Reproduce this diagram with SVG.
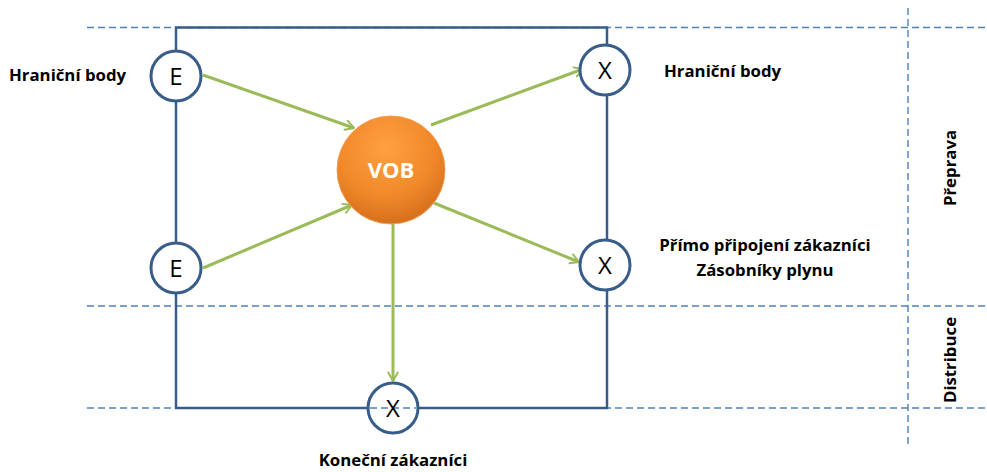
<svg xmlns="http://www.w3.org/2000/svg" width="987" height="472" viewBox="0 0 987 472">
<defs>
<style>
.dash{stroke:#4F81BD;stroke-width:1.4;stroke-dasharray:7 4;fill:none}
.frame{stroke:#385D8A;stroke-width:2.5;fill:none}
.node{fill:#fff;stroke:#385D8A;stroke-width:3}
.nt{font-family:"Open Sans","Liberation Sans",sans-serif;font-size:24px;fill:#000;text-anchor:middle}
.lbl{font-family:"Open Sans","Liberation Sans",sans-serif;font-size:16.8px;font-weight:bold;fill:#000}
.conn{stroke:#9BBB59;stroke-width:3;fill:none;marker-end:url(#ah)}
</style>
<marker id="ah" viewBox="0 0 10 10" refX="8" refY="5" markerWidth="4" markerHeight="4" orient="auto" markerUnits="strokeWidth">
<path d="M1,1 L8,5 L1,9" fill="none" stroke="#9BBB59" stroke-width="1.6" stroke-linecap="round" stroke-linejoin="round"/>
</marker>
<radialGradient id="og" cx="0.45" cy="0.3" r="0.75">
<stop offset="0" stop-color="#FFA040"/>
<stop offset="0.6" stop-color="#F0882A"/>
<stop offset="1" stop-color="#D06A18"/>
</radialGradient>
</defs>
<rect width="987" height="472" fill="#fff"/>
<g id="guides">
<line class="dash" x1="87" y1="27.5" x2="987" y2="27.5"/>
<line class="dash" x1="87" y1="306" x2="987" y2="306"/>
<line class="dash" x1="87" y1="408" x2="987" y2="408"/>
<line class="dash" x1="908" y1="8" x2="908" y2="445"/>
</g>
<rect class="frame" x="176" y="27.5" width="431" height="380.5"/>
<g id="connectors">
<line class="conn" x1="203" y1="75" x2="354" y2="128"/>
<line class="conn" x1="203" y1="268" x2="352" y2="205"/>
<line class="conn" x1="431" y1="125" x2="583" y2="69"/>
<line class="conn" x1="434" y1="203" x2="579" y2="262"/>
<line class="conn" x1="393" y1="222" x2="393" y2="381"/>
</g>
<g id="vob">
<circle cx="391" cy="170" r="54" fill="url(#og)" stroke="#F2A055" stroke-width="1"/>
<text x="391" y="178" font-family="Open Sans,Liberation Sans,sans-serif" font-size="22" font-weight="bold" fill="#fff" text-anchor="middle">VOB</text>
</g>
<g id="e1"><circle class="node" cx="176" cy="76" r="25"/><text class="nt" x="176" y="85">E</text></g>
<g id="e2"><circle class="node" cx="176" cy="268" r="25"/><text class="nt" x="176" y="277">E</text></g>
<g id="x1"><circle class="node" cx="605" cy="70" r="25"/><text class="nt" x="605" y="79">X</text></g>
<g id="x2"><circle class="node" cx="605" cy="265" r="25"/><text class="nt" x="605" y="274">X</text></g>
<g id="x3"><circle class="node" cx="393" cy="408" r="25"/><line class="dash" x1="370" y1="408" x2="416" y2="408"/><text class="nt" x="393" y="417">X</text></g>
<g id="labels">
<text class="lbl" x="9" y="81">Hraniční body</text>
<text class="lbl" x="664" y="77">Hraniční body</text>
<text class="lbl" x="765" y="251" text-anchor="middle">Přímo připojení zákazníci</text>
<text class="lbl" x="765" y="276" text-anchor="middle">Zásobníky plynu</text>
<text class="lbl" x="393" y="466" text-anchor="middle">Koneční zákazníci</text>
<text class="lbl" text-anchor="middle" transform="translate(956,168) rotate(-90)">Přeprava</text>
<text class="lbl" text-anchor="middle" transform="translate(956,360) rotate(-90)">Distribuce</text>
</g>
</svg>
